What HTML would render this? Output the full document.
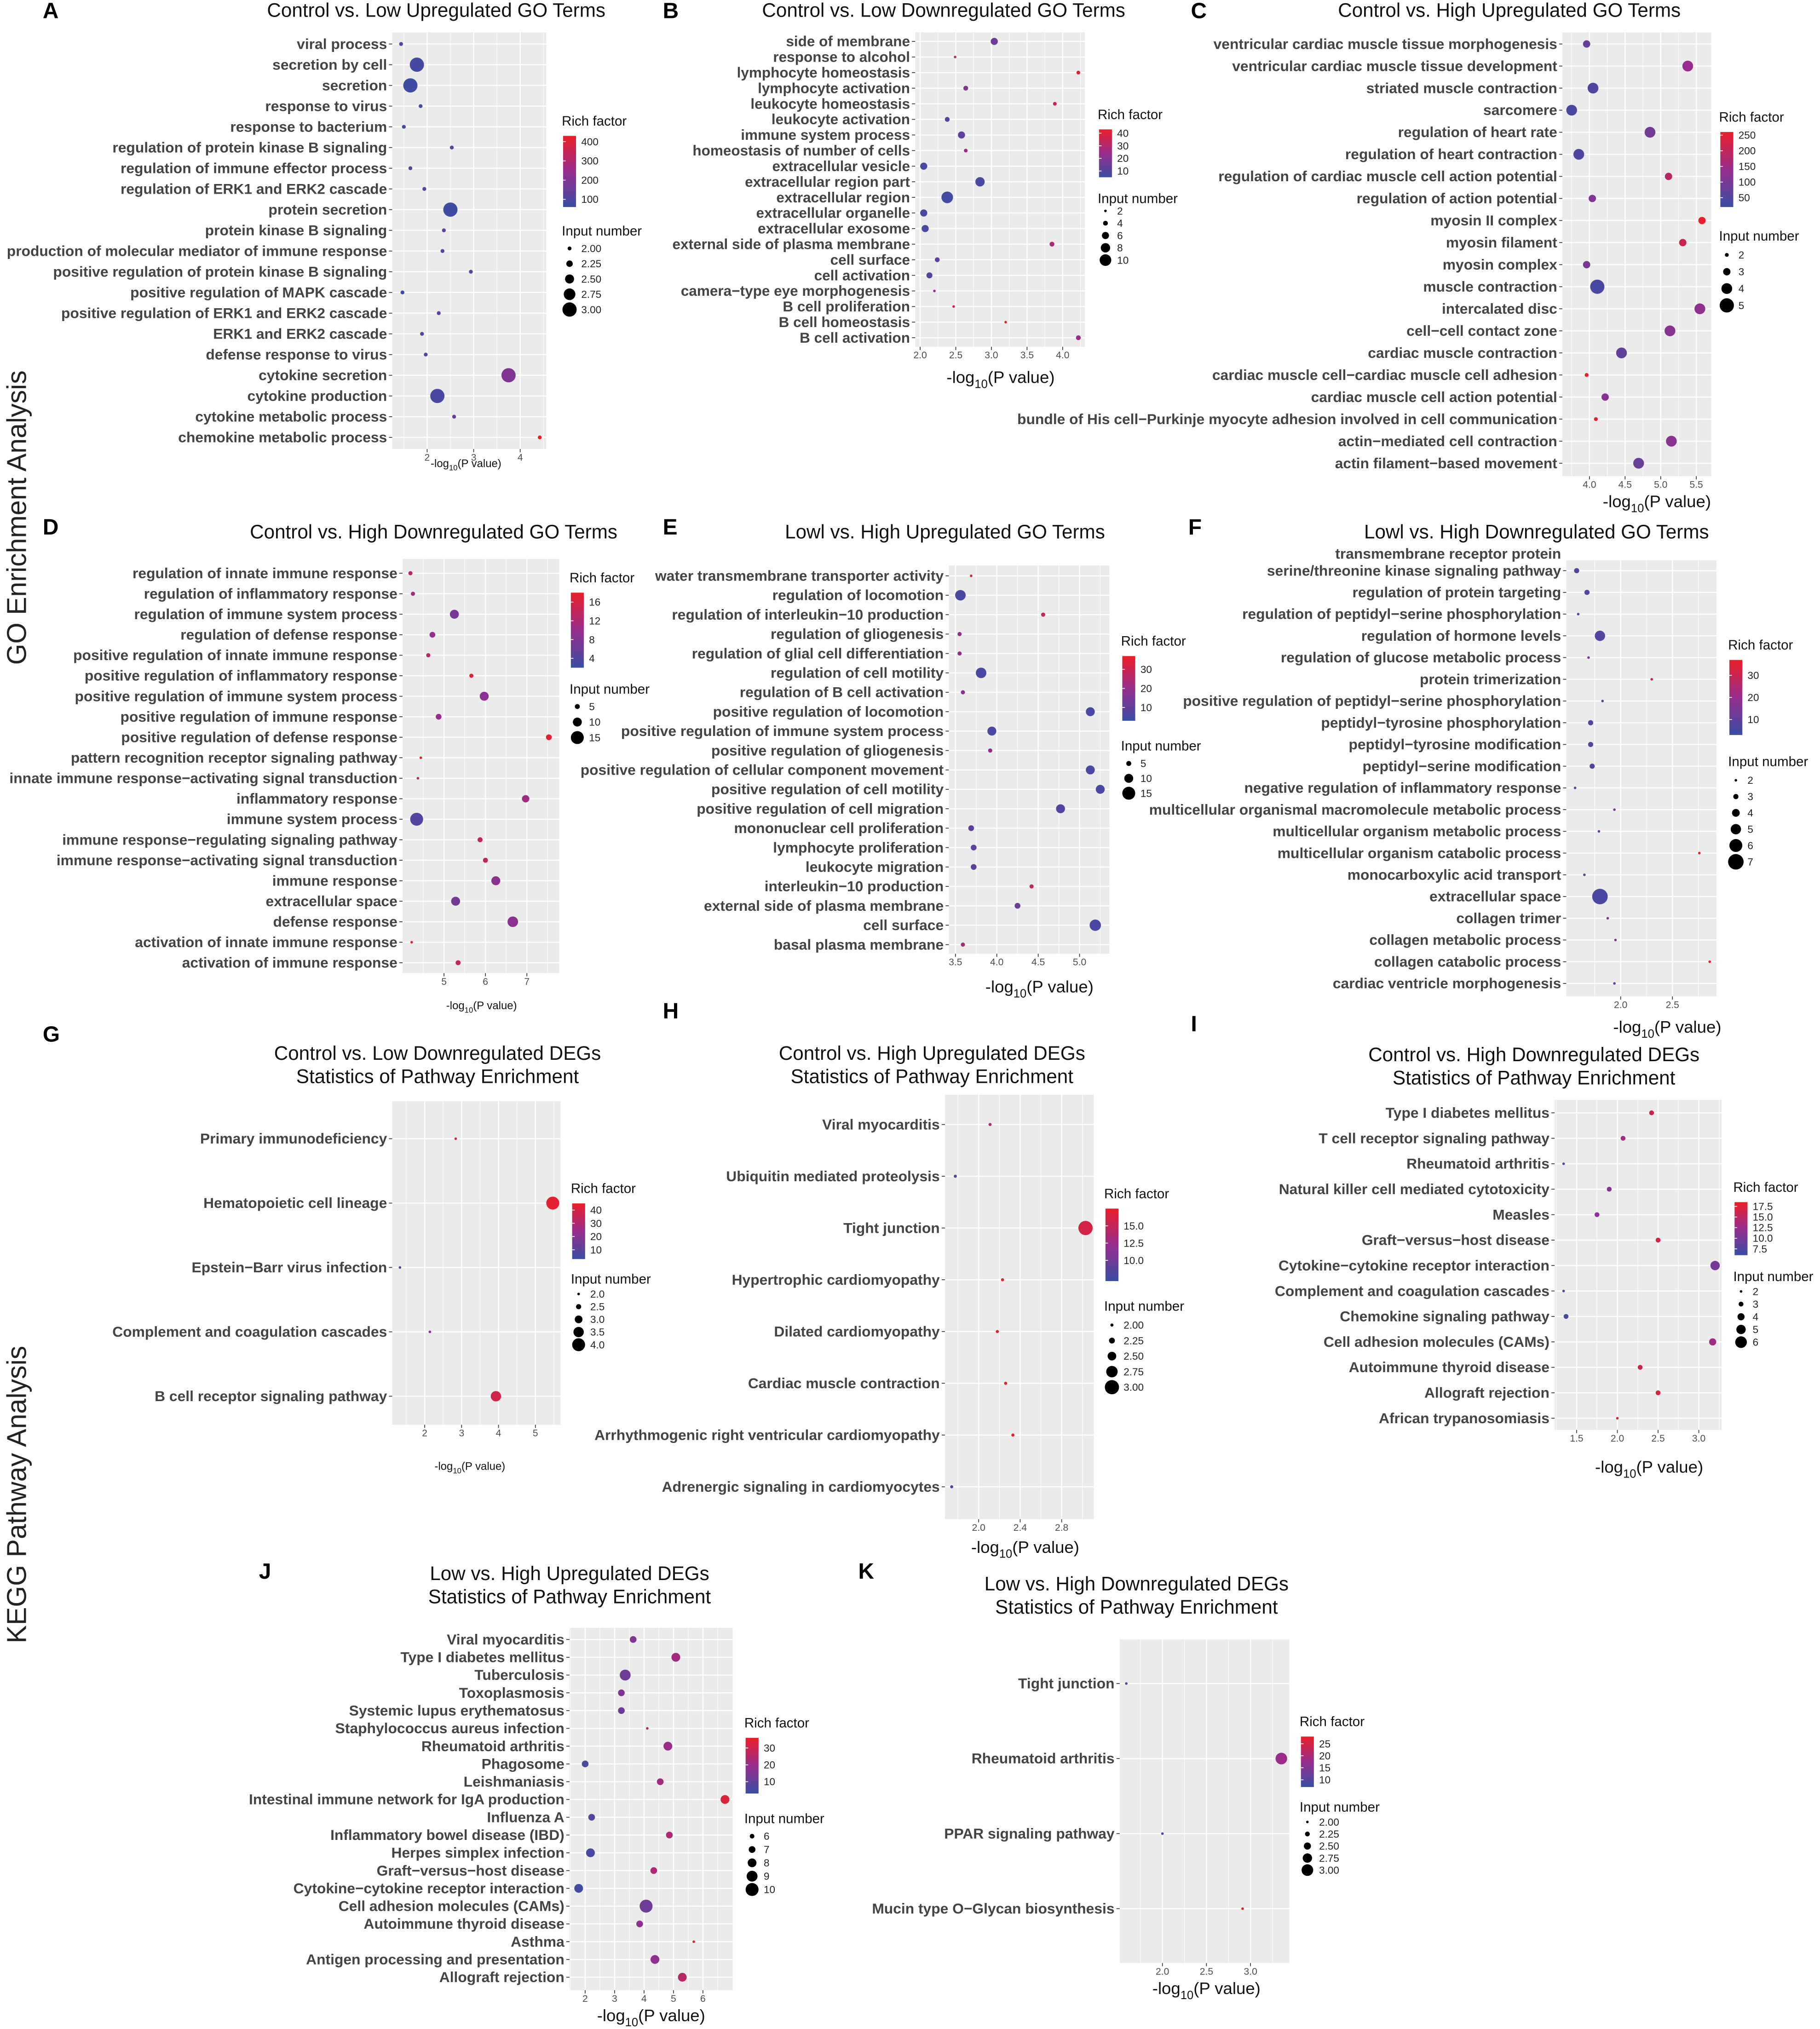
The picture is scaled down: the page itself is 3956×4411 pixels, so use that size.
<!DOCTYPE html>
<html><head><meta charset="utf-8"><style>
html,body{margin:0;padding:0;background:#fff;}
svg{display:block;}
text{font-family:"Liberation Sans",Arial,sans-serif;}
</style></head><body>
<svg id="fig" xmlns="http://www.w3.org/2000/svg" width="3956" height="4411" viewBox="0 0 1406 1568" preserveAspectRatio="none">
<text x="20" y="400" transform="rotate(-90 20 400)" text-anchor="middle" font-size="21" fill="#222">GO Enrichment Analysis</text>
<text x="20" y="1155" transform="rotate(-90 20 1155)" text-anchor="middle" font-size="21" fill="#222">KEGG Pathway Analysis</text>
</svg>
<script>
// ---------- Panel A ----------
const A_terms=["viral process","secretion by cell","secretion","response to virus","response to bacterium","regulation of protein kinase B signaling","regulation of immune effector process","regulation of ERK1 and ERK2 cascade","protein secretion","protein kinase B signaling","production of molecular mediator of immune response","positive regulation of protein kinase B signaling","positive regulation of MAPK cascade","positive regulation of ERK1 and ERK2 cascade","ERK1 and ERK2 cascade","defense response to virus","cytokine secretion","cytokine production","cytokine metabolic process","chemokine metabolic process"];
const A_x=[1.44,1.78,1.64,1.86,1.5,2.53,1.64,1.94,2.5,2.36,2.33,2.94,1.47,2.25,1.89,1.97,3.75,2.22,2.58,4.42];
const A_n=[2,3,3,2,2,2,2,2,3,2,2,2,2,2,2,2,3,3,2,2];
const A_rf=[100,80,70,90,90,120,110,110,70,130,120,150,80,130,120,110,200,90,150,420];
// ---------- Panel B ----------
const B_terms=["side of membrane","response to alcohol","lymphocyte homeostasis","lymphocyte activation","leukocyte homeostasis","leukocyte activation","immune system process","homeostasis of number of cells","extracellular vesicle","extracellular region part","extracellular region","extracellular organelle","extracellular exosome","external side of plasma membrane","cell surface","cell activation","camera\u2212type eye morphogenesis","B cell proliferation","B cell homeostasis","B cell activation"];
const B_x=[3.04,2.49,4.22,2.64,3.89,2.38,2.58,2.64,2.05,2.84,2.38,2.05,2.07,3.85,2.24,2.13,2.2,2.47,3.2,4.22];
const B_n=[6,2,3,4,3,4,6,3,6,8,10,6,6,4,4,5,2,2,2,4];
const B_rf=[15,35,40,20,35,10,12,25,8,8,7,8,8,28,12,10,25,35,42,25];
// ---------- Panel C ----------
const C_terms=["ventricular cardiac muscle tissue morphogenesis","ventricular cardiac muscle tissue development","striated muscle contraction","sarcomere","regulation of heart rate","regulation of heart contraction","regulation of cardiac muscle cell action potential","regulation of action potential","myosin II complex","myosin filament","myosin complex","muscle contraction","intercalated disc","cell\u2212cell contact zone","cardiac muscle contraction","cardiac muscle cell\u2212cardiac muscle cell adhesion","cardiac muscle cell action potential","bundle of His cell\u2212Purkinje myocyte adhesion involved in cell communication","actin\u2212mediated cell contraction","actin filament\u2212based movement"];
const C_x=[3.96,5.38,4.05,3.75,4.85,3.85,5.11,4.04,5.58,5.31,3.96,4.11,5.55,5.13,4.45,3.96,4.22,4.09,5.15,4.69];
const C_n=[3,4,4,4,4,4,3,3,3,3,3,5,4,4,4,2,3,2,4,4];
const C_rf=[80,140,50,40,90,50,190,110,250,210,100,40,130,120,70,250,120,250,120,80];
// ---------- Panel D ----------
const D_terms=["regulation of innate immune response","regulation of inflammatory response","regulation of immune system process","regulation of defense response","positive regulation of innate immune response","positive regulation of inflammatory response","positive regulation of immune system process","positive regulation of immune response","positive regulation of defense response","pattern recognition receptor signaling pathway","innate immune response\u2212activating signal transduction","inflammatory response","immune system process","immune response\u2212regulating signaling pathway","immune response\u2212activating signal transduction","immune response","extracellular space","defense response","activation of innate immune response","activation of immune response"];
const D_x=[4.19,4.25,5.25,4.72,4.62,5.66,5.97,4.87,7.53,4.44,4.37,6.97,4.34,5.87,6.0,6.25,5.28,6.66,4.22,5.34];
const D_n=[4,4,10,6,4,4,10,6,6,2,2,8,15,5,5,10,10,12,2,5];
const D_rf=[13,11,7,10,13,17,9,10,17,17,14,11,4,14,14,9,7,9,17,14];
// ---------- Panel E ----------
const E_terms=["water transmembrane transporter activity","regulation of locomotion","regulation of interleukin\u221210 production","regulation of gliogenesis","regulation of glial cell differentiation","regulation of cell motility","regulation of B cell activation","positive regulation of locomotion","positive regulation of immune system process","positive regulation of gliogenesis","positive regulation of cellular component movement","positive regulation of cell motility","positive regulation of cell migration","mononuclear cell proliferation","lymphocyte proliferation","leukocyte migration","interleukin\u221210 production","external side of plasma membrane","cell surface","basal plasma membrane"];
const E_x=[3.69,3.56,4.56,3.55,3.55,3.81,3.59,5.13,3.94,3.92,5.13,5.25,4.77,3.69,3.72,3.72,4.42,4.25,5.19,3.59];
const E_n=[2,12,4,4,4,12,4,10,10,4,10,10,10,6,6,6,4,6,13,4];
const E_rf=[35,6,28,18,18,6,18,6,6,20,6,6,8,9,9,9,28,12,6,24];
// ---------- Panel F ----------
const F_terms=["transmembrane receptor protein|serine/threonine kinase signaling pathway","regulation of protein targeting","regulation of peptidyl\u2212serine phosphorylation","regulation of hormone levels","regulation of glucose metabolic process","protein trimerization","positive regulation of peptidyl\u2212serine phosphorylation","peptidyl\u2212tyrosine phosphorylation","peptidyl\u2212tyrosine modification","peptidyl\u2212serine modification","negative regulation of inflammatory response","multicellular organismal macromolecule metabolic process","multicellular organism metabolic process","multicellular organism catabolic process","monocarboxylic acid transport","extracellular space","collagen trimer","collagen metabolic process","collagen catabolic process","cardiac ventricle morphogenesis"];
const F_x=[1.575,1.675,1.59,1.8,1.69,2.3,1.825,1.71,1.71,1.725,1.56,1.94,1.79,2.76,1.65,1.8,1.875,1.95,2.86,1.94];
const F_n=[3,3,2,5,2,2,2,3,3,3,2,2,2,2,2,7,2,2,2,2];
const F_rf=[8,8,8,7,15,28,10,8,8,8,13,15,14,36,10,6,15,17,36,13];
// ---------- Panel G ----------
const G_terms=["Primary immunodeficiency","Hematopoietic cell lineage","Epstein\u2212Barr virus infection","Complement and coagulation cascades","B cell receptor signaling pathway"];
const G_x=[2.84,5.47,1.33,2.14,3.93];
const G_n=[2,4,2,2,3.5];
const G_rf=[40,43,8,20,38];
// ---------- Panel H ----------
const H_terms=["Viral myocarditis","Ubiquitin mediated proteolysis","Tight junction","Hypertrophic cardiomyopathy","Dilated cardiomyopathy","Cardiac muscle contraction","Arrhythmogenic right ventricular cardiomyopathy","Adrenergic signaling in cardiomyocytes"];
const H_x=[2.11,1.775,3.03,2.23,2.18,2.26,2.33,1.74];
const H_n=[2,2,3,2,2,2,2,2];
const H_rf=[14,8,16,17,17,17,17,8];
// ---------- Panel I ----------
const I_terms=["Type I diabetes mellitus","T cell receptor signaling pathway","Rheumatoid arthritis","Natural killer cell mediated cytotoxicity","Measles","Graft\u2212versus\u2212host disease","Cytokine\u2212cytokine receptor interaction","Complement and coagulation cascades","Chemokine signaling pathway","Cell adhesion molecules (CAMs)","Autoimmune thyroid disease","Allograft rejection","African trypanosomiasis"];
const I_x=[2.42,2.07,1.34,1.9,1.75,2.5,3.2,1.34,1.37,3.17,2.28,2.5,2.0];
const I_n=[3,3,2,3,3,3,5,2,3,4,3,3,2];
const I_rf=[16,13,7,11,11,17,10,7,7,13,16,17,18];
// ---------- Panel J ----------
const J_terms=["Viral myocarditis","Type I diabetes mellitus","Tuberculosis","Toxoplasmosis","Systemic lupus erythematosus","Staphylococcus aureus infection","Rheumatoid arthritis","Phagosome","Leishmaniasis","Intestinal immune network for IgA production","Influenza A","Inflammatory bowel disease (IBD)","Herpes simplex infection","Graft\u2212versus\u2212host disease","Cytokine\u2212cytokine receptor interaction","Cell adhesion molecules (CAMs)","Autoimmune thyroid disease","Asthma","Antigen processing and presentation","Allograft rejection"];
const J_x=[3.63,5.08,3.36,3.23,3.23,4.11,4.81,2.0,4.55,6.75,2.22,4.86,2.18,4.33,1.78,4.07,3.85,5.69,4.37,5.3];
const J_n=[7,8,9,7,7,5,8,7,7,8,7,7,8,7,8,10,7,5,8,8];
const J_rf=[15,22,12,15,12,30,20,6,22,33,8,24,6,24,5,12,18,34,18,26];
// ---------- Panel K ----------
const K_terms=["Tight junction","Rheumatoid arthritis","PPAR signaling pathway","Mucin type O\u2212Glycan biosynthesis"];
const K_x=[1.59,3.35,2.0,2.91];
const K_n=[2,3,2,2];
const K_rf=[8,18,8,27];

const NS="http://www.w3.org/2000/svg";
const svg=document.getElementById('fig');
function mk(tag,attrs,parent){const e=document.createElementNS(NS,tag);for(const k in attrs)e.setAttribute(k,attrs[k]);(parent||svg).appendChild(e);return e;}
function col(t){t=Math.max(0,Math.min(1,t));const a=[58,78,165],m=[150,45,140],b=[235,30,40];let c;
 if(t<0.5){const u=t/0.5;c=a.map((v,i)=>Math.round(v+(m[i]-v)*u));}else{const u=(t-0.5)/0.5;c=m.map((v,i)=>Math.round(v+(b[i]-v)*u));}
 return 'rgb('+c.join(',')+')';}

function panel(cfg,terms,xs,ns,rs){
 const g=mk('g',{});
 
 
 const [x0,y0,x1,y1]=cfg.plot;
 const sx=v=>x0+(v-cfg.xd[0])/(cfg.xd[1]-cfg.xd[0])*(x1-x0);
 const n=terms.length;
 const sy=i=>cfg.ty[0]+(n>1?i*(cfg.ty[1]-cfg.ty[0])/(n-1):0);
 const sr=v=>Math.max(0.8,cfg.r[0]+(v-cfg.nd[0])/(cfg.nd[1]-cfg.nd[0])*(cfg.r[1]-cfg.r[0]));
 const sc=v=>col((v-cfg.cd[0])/(cfg.cd[1]-cfg.cd[0]));
 const L=mk('text',{x:cfg.letter[0],y:cfg.letter[1],'font-size':17,'font-weight':'bold',fill:'#000'},g);L.textContent=cfg.id;
 
 
 cfg.title.forEach((t,i)=>{const T=mk('text',{x:cfg.tpos[0],y:cfg.tpos[1]+i*18,'font-size':15,'text-anchor':'middle',fill:'#111'},g);T.textContent=t;
  
  });
 const bg=mk('rect',{x:x0,y:y0,width:x1-x0,height:y1-y0,fill:'#ebebeb'},g);
 
 
 const tk=cfg.ticks;const step=tk.length>1?tk[1]-tk[0]:1;
 for(let v=tk[0]-step/2;v<=cfg.xd[1];v+=step){if(v<cfg.xd[0])continue;const l=mk('line',{x1:sx(v),x2:sx(v),y1:y0,y2:y1,stroke:'#fff','stroke-width':0.4},g);
  
  }
 tk.forEach((v,i)=>{const X=sx(v);const l=mk('line',{x1:X,x2:X,y1:y0,y2:y1,stroke:'#fff','stroke-width':0.9},g);
  
  
  mk('line',{x1:X,x2:X,y1:y1,y2:y1+2.5,stroke:'#333','stroke-width':0.6},g);
  const t=mk('text',{x:X,y:y1+9,'font-size':cfg.tfs||7.5,'text-anchor':'middle',fill:'#4d4d4d'},g);t.textContent=cfg.tl?cfg.tl[i]:String(v);
  
  });
 terms.forEach((name,i)=>{const Y=sy(i);
  const l=mk('line',{x1:x0,x2:x1,y1:Y,y2:Y,stroke:'#fff','stroke-width':0.9},g);
  
  
  mk('line',{x1:x0-2.5,x2:x0,y1:Y,y2:Y,stroke:'#333','stroke-width':0.6},g);
  const parts=name.split('|');
  parts.forEach((p,j)=>{const t=mk('text',{x:x0-4,y:Y+3.8-(parts.length-1-j)*13,'font-size':cfg.lfs,'font-weight':'bold','text-anchor':'end',fill:'#444'},g);t.textContent=p;
   
   });
 });
 terms.forEach((name,i)=>{const c=mk('circle',{cx:sx(xs[i]),cy:sy(i),r:sr(ns[i]),fill:sc(rs[i])},g);
  
  });
 const xt=mk('text',{x:cfg.xl[0],y:cfg.xl[1],'font-size':cfg.xfs,'text-anchor':'middle',fill:'#111'},g);
 xt.innerHTML='-log<tspan font-size="'+(cfg.xfs*0.7)+'" dy="'+(cfg.xfs*0.3)+'">10</tspan><tspan dy="'+(-cfg.xfs*0.3)+'">(P value)</tspan>';
 
 
 const [lx,ly]=cfg.cl;const bt=ly+8,bb=cfg.cb;
 const lt=mk('text',{x:lx,y:ly,'font-size':10.5,fill:'#111'},g);lt.textContent='Rich factor';
 
 
 const gid='grad'+cfg.id;const defs=mk('defs',{},g);const lg=mk('linearGradient',{id:gid,x1:0,y1:1,x2:0,y2:0},defs);
 for(let k=0;k<=10;k++)mk('stop',{offset:k/10,'stop-color':col(k/10)},lg);
 const bar=mk('rect',{x:lx+1,y:bt,width:10,height:bb-bt,fill:'url(#'+gid+')'},g);
 
 
 cfg.cls.forEach(v=>{const Y=bb-(v-cfg.cd[0])/(cfg.cd[1]-cfg.cd[0])*(bb-bt);
  mk('line',{x1:lx+1,x2:lx+3,y1:Y,y2:Y,stroke:'#fff','stroke-width':0.6},g);
  const t=mk('text',{x:lx+15,y:Y+2.8,'font-size':8,fill:'#222'},g);t.textContent=(cfg.clf?v.toFixed(1):String(v));
  
  });
 const [sxl,syl]=cfg.sl;
 const st=mk('text',{x:sxl,y:syl,'font-size':10.5,fill:'#111'},g);st.textContent='Input number';
 
 
 cfg.sls.forEach((v,k)=>{const Y=cfg.sy0+k*cfg.sdy;const c=mk('circle',{cx:sxl+6,cy:Y,r:sr(v),fill:'#000'},g);
  
  
  const t=mk('text',{x:sxl+15,y:Y+2.8,'font-size':8,fill:'#222'},g);t.textContent=cfg.slf?v.toFixed(cfg.slf):String(v);
  
  });
}

panel({id:'A',letter:[33,14],title:['Control vs. Low Upregulated GO Terms'],tpos:[337,13],plot:[303,25,422,347],xd:[1.25,4.56],ticks:[2,3,4],ty:[34,338],lfs:11.3,
 nd:[2,3],r:[1.5,5.5],cd:[60,430],xl:[360,361],xfs:8.5,cl:[434,97],cb:160,cls:[400,300,200,100],sl:[434,182],sls:[2,2.25,2.5,2.75,3],slf:2,sy0:192,sdy:11.8},A_terms,A_x,A_n,A_rf);
panel({id:'B',letter:[512,14],title:['Control vs. Low Downregulated GO Terms'],tpos:[729,13],plot:[707,25,838,268],xd:[1.93,4.31],ticks:[2,2.5,3,3.5,4],tl:['2.0','2.5','3.0','3.5','4.0'],ty:[32,261],lfs:11.2,
 nd:[2,10],r:[1,4.5],cd:[5,43],xl:[773,296],xfs:13,cl:[848,92],cb:137,cls:[40,30,20,10],sl:[848,157],sls:[2,4,6,8,10],sy0:163,sdy:9.5},B_terms,B_x,B_n,B_rf);
panel({id:'C',letter:[920,14],title:['Control vs. High Upregulated GO Terms'],tpos:[1166,13],plot:[1207,25,1322,368],xd:[3.62,5.71],ticks:[4,4.5,5,5.5],tl:['4.0','4.5','5.0','5.5'],ty:[34,358],lfs:11.3,
 nd:[2,5],r:[1.5,5.5],cd:[20,260],xl:[1280,392],xfs:13,cl:[1328,94],cb:160,cls:[250,200,150,100,50],sl:[1328,186],sls:[2,3,4,5],sy0:197,sdy:13},C_terms,C_x,C_n,C_rf);
panel({id:'D',letter:[33,413],title:['Control vs. High Downregulated GO Terms'],tpos:[335,416],plot:[311,432,432,752],xd:[4.0,7.78],ticks:[5,6,7],ty:[443,744],lfs:11.3,
 nd:[2,15],r:[1,5],cd:[2,18],xl:[372,780],xfs:8.5,cl:[440,450],cb:516,cls:[16,12,8,4],sl:[440,536],sls:[5,10,15],sy0:546,sdy:12},D_terms,D_x,D_n,D_rf);
panel({id:'E',letter:[512,413],title:['Lowl vs. High Upregulated GO Terms'],tpos:[730,416],plot:[733,437,857,737],xd:[3.42,5.36],ticks:[3.5,4,4.5,5],tl:['3.5','4.0','4.5','5.0'],ty:[445,730],lfs:11.3,
 nd:[2,15],r:[1,5],cd:[3,37],xl:[803,767],xfs:13,cl:[866,499],cb:557,cls:[30,20,10],sl:[866,580],sls:[5,10,15],sy0:590,sdy:11.5},E_terms,E_x,E_n,E_rf);
panel({id:'F',letter:[918,413],title:['Lowl vs. High Downregulated GO Terms'],tpos:[1187,416],plot:[1210,433,1326,770],xd:[1.475,2.925],ticks:[2,2.5],tl:['2.0','2.5'],ty:[441,760],lfs:11.3,
 nd:[2,7],r:[1,6],cd:[3,37],xl:[1288,798],xfs:13,cl:[1335,502],cb:568,cls:[30,20,10],sl:[1335,592],sls:[2,3,4,5,6,7],sy0:603,sdy:12.6},F_terms,F_x,F_n,F_rf);
panel({id:'G',letter:[33,805],title:['Control vs. Low Downregulated DEGs','Statistics of Pathway Enrichment'],tpos:[338,819],plot:[303,851,433,1101],xd:[1.12,5.68],ticks:[2,3,4,5],ty:[880,1079],lfs:11.3,
 nd:[2,4],r:[1,5],cd:[3,45],xl:[363,1136],xfs:8.5,cl:[441,922],cb:973,cls:[40,30,20,10],sl:[441,992],sls:[2,2.5,3,3.5,4],slf:1,sy0:1000,sdy:9.8},G_terms,G_x,G_n,G_rf);
panel({id:'H',letter:[512,787],title:['Control vs. High Upregulated DEGs','Statistics of Pathway Enrichment'],tpos:[720,819],plot:[730,846,845,1174],xd:[1.675,3.11],ticks:[2,2.4,2.8],tl:['2.0','2.4','2.8'],ty:[869,1149],lfs:11.3,
 nd:[2,3],r:[1.2,5.5],cd:[7,17.5],clf:1,xl:[792,1200],xfs:13,cl:[853,926],cb:990,cls:[15,12.5,10],sl:[853,1013],sls:[2,2.25,2.5,2.75,3],slf:2,sy0:1024,sdy:12},H_terms,H_x,H_n,H_rf);
panel({id:'I',letter:[920,797],title:['Control vs. High Downregulated DEGs','Statistics of Pathway Enrichment'],tpos:[1185,820],plot:[1201,850,1330,1105],xd:[1.23,3.28],ticks:[1.5,2,2.5,3],tl:['1.5','2.0','2.5','3.0'],ty:[860,1096],lfs:11.3,
 nd:[2,6],r:[1,4.5],cd:[6,18.5],clf:1,xl:[1274,1138],xfs:13,cl:[1339,921],cb:970,cls:[17.5,15,12.5,10,7.5],sl:[1339,990],sls:[2,3,4,5,6],sy0:998,sdy:9.8},I_terms,I_x,I_n,I_rf);
panel({id:'J',letter:[200,1220],title:['Low vs. High Upregulated DEGs','Statistics of Pathway Enrichment'],tpos:[440,1221],plot:[440,1258,566,1538],xd:[1.47,7.01],ticks:[2,3,4,5,6],ty:[1267,1528],lfs:11.3,
 nd:[6,10],r:[1.8,5],cd:[3,36],xl:[503,1562],xfs:13,cl:[575,1335],cb:1386,cls:[30,20,10],sl:[575,1409],sls:[6,7,8,9,10],sy0:1419,sdy:10.3},J_terms,J_x,J_n,J_rf);
panel({id:'K',letter:[663,1220],title:['Low vs. High Downregulated DEGs','Statistics of Pathway Enrichment'],tpos:[878,1229],plot:[865,1267,996,1517],xd:[1.515,3.44],ticks:[2,2.5,3],tl:['2.0','2.5','3.0'],ty:[1301,1475],lfs:11.3,
 nd:[2,3],r:[1,4.5],cd:[7,28],xl:[932,1541],xfs:13,cl:[1004,1334],cb:1381,cls:[25,20,15,10],sl:[1004,1400],sls:[2,2.25,2.5,2.75,3],slf:2,sy0:1408,sdy:9.3},K_terms,K_x,K_n,K_rf);
</script>
</body></html>
